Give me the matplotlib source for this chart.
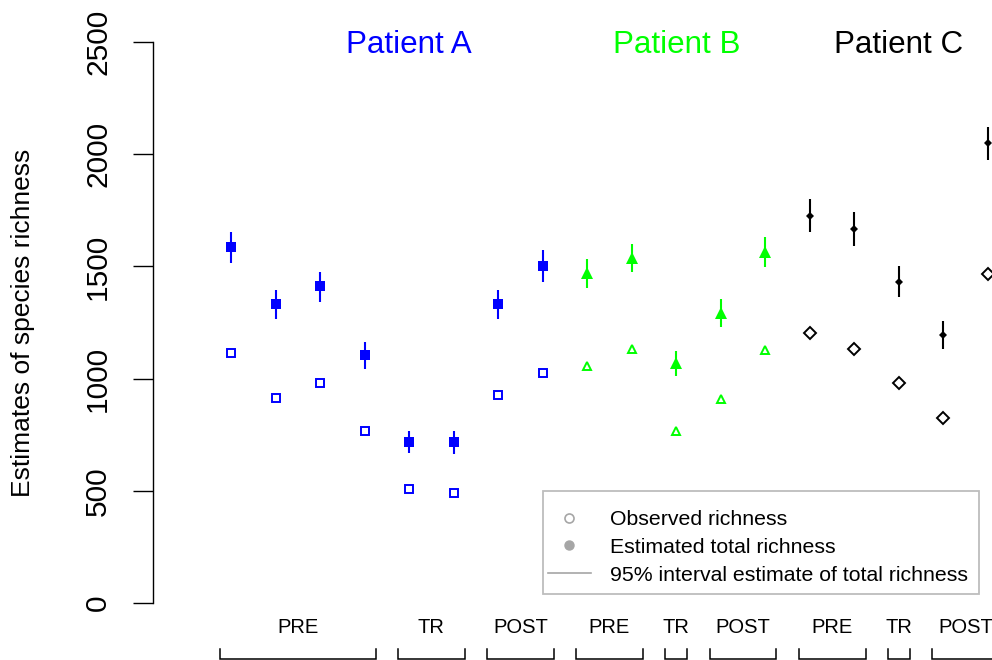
#!/usr/bin/env python3
"""Species richness estimates per sample for three patients (PRE / TR / POST)."""
import matplotlib.pyplot as plt
from matplotlib.lines import Line2D
from matplotlib.patches import Rectangle
import numpy as np

plt.rcParams["font.family"] = ["Liberation Sans", "DejaVu Sans"]

# ---- data ----
patients = ["Patient A", "Patient B", "Patient C"]
colors = ["#0000ff", "#00ff00", "#000000"]

phases_a = ["PRE", "PRE", "PRE", "PRE", "TR", "TR", "POST", "POST"]
phases_b = ["PRE", "PRE", "TR", "POST", "POST"]
phases_c = ["PRE", "PRE", "TR", "POST", "POST"]

est_a = [1586, 1332, 1413, 1105, 717, 717, 1332, 1502]
lo_a = [1515, 1265, 1341, 1043, 668, 664, 1265, 1430]
hi_a = [1653, 1395, 1475, 1163, 767, 767, 1395, 1573]
obs_a = [1114, 914, 980, 767, 508, 490, 927, 1025]

est_b = [1471, 1537, 1070, 1292, 1564]
lo_b = [1404, 1475, 1012, 1230, 1497]
hi_b = [1533, 1600, 1123, 1355, 1631]
obs_b = [1056, 1132, 767, 909, 1127]

est_c = [1725, 1667, 1430, 1194, 2050]
lo_c = [1653, 1591, 1364, 1132, 1974]
hi_c = [1800, 1742, 1502, 1257, 2121]
obs_c = [1203, 1132, 980, 824, 1466]

yticks = [0, 500, 1000, 1500, 2000, 2500]

groups = [
    (phases_a, est_a, lo_a, hi_a, obs_a),
    (phases_b, est_b, lo_b, hi_b, obs_b),
    (phases_c, est_c, lo_c, hi_c, obs_c),
]
filled_mk = ["s", "^", "D"]
filled_ms = [6.5, 8.0, 4.2]
open_ms = [5.8, 6.2, 6.2]

fig = plt.figure(figsize=(9.92, 6.6), dpi=100)
ax = fig.add_axes([0, 0, 1, 1])
ax.set_xlim(-4.187, 18.09)
ax.set_ylim(-254, 2687)

start = 1
for gi, (ph, est, lo, hi, obs) in enumerate(groups):
    x = np.arange(start, start + len(est))
    c = colors[gi]
    ax.vlines(x, lo, hi, color=c, lw=1.5, zorder=2)
    ax.plot(x, est, ls="none", marker=filled_mk[gi], ms=filled_ms[gi], color=c,
            mec=c, mew=0, zorder=3)
    ax.plot(x, obs, ls="none", marker=filled_mk[gi], ms=open_ms[gi], mfc="none",
            mec=c, mew=1.4, zorder=3)
    ax.text(x[len(x) // 2], 2488, patients[gi], color=c,
            fontsize=22.6, ha="center", va="center")

    # phase brackets below the plot
    for phase in ["PRE", "TR", "POST"]:
        xs = x[[p == phase for p in ph]]
        a, b = xs.min() - 0.25, xs.max() + 0.25
        ax.plot([a, a, b, b], [-205, -250, -250, -205], color="black", lw=1.1,
                clip_on=False, solid_joinstyle="miter")
        ax.text((xs.min() + xs.max()) / 2, -107, phase, fontsize=14.5,
                ha="center", va="center")
    start += len(est)

# y axis in R style
for side in ["top", "right", "bottom"]:
    ax.spines[side].set_visible(False)
ax.spines["left"].set_position(("data", -0.752))
ax.spines["left"].set_bounds(0, 2500)
ax.spines["left"].set_linewidth(1.0)
ax.set_xticks([])
ax.set_yticks(yticks)
ax.set_yticklabels([str(v) for v in yticks], rotation=90, va="center", fontsize=21.5)
ax.tick_params(axis="y", length=14.4, width=1.0, pad=15)
ax.patch.set_alpha(0)

fig.text(23 / 992, 1 - 323 / 660, "Estimates of species richness", rotation=90,
         ha="center", va="center", fontsize=19)

# legend: R-like box with a small left pad
grey = "#a6a6a6"
fig.patches.append(Rectangle((543 / 992, 1 - 594 / 660), 436 / 992, 103 / 660,
                             transform=fig.transFigure, fill=False,
                             edgecolor="#bdbdbd", lw=1.3))
handles = [
    Line2D([], [], ls="none", marker="o", ms=6.5, mfc="none", mec=grey, mew=1.2),
    Line2D([], [], ls="none", marker="o", ms=6.5, color=grey),
    Line2D([], [], color=grey, lw=1.2),
]
labels = ["Observed richness", "Estimated total richness",
          "95% interval estimate of total richness"]
ax.legend(handles, labels, loc="upper left",
          bbox_to_anchor=(548 / 992, 1 - 510 / 660),
          bbox_transform=fig.transFigure, borderaxespad=0, fontsize=15.3,
          frameon=False, handlelength=2.0, handletextpad=0.94, labelspacing=0.42,
          borderpad=0)

fig.savefig("out.png", dpi=100)
